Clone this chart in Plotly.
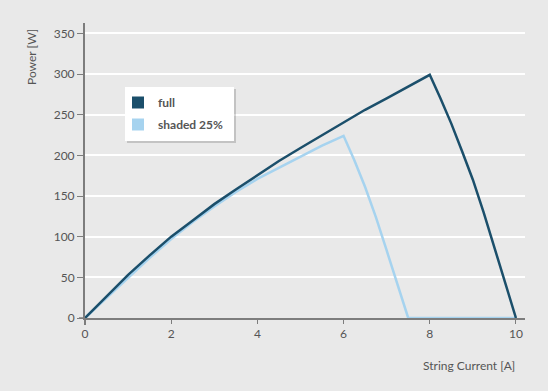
import plotly.graph_objects as go

# Data
current_full = [0, 0.5, 1, 1.5, 2, 2.5, 3, 3.5, 4, 4.5, 5, 5.5, 6, 6.5, 7, 7.5, 8,
                8.25, 8.5, 8.75, 9, 9.25, 9.5, 9.75, 10]
power_full = [0, 27, 53, 77, 100, 120, 140, 158, 176, 193, 209, 225, 241, 256, 270, 285, 299,
              270, 239, 205, 170, 130, 86, 43, 0]

current_shaded = [0, 0.5, 1, 1.5, 2, 2.5, 3, 3.5, 4, 4.5, 5, 5.5, 6,
                  6.25, 6.5, 6.75, 7, 7.25, 7.5, 10]
power_shaded = [0, 25, 50, 74, 97, 118, 137, 155, 171, 185, 199, 212, 224,
                194, 161, 124, 83, 41, 0, 0]

series_names = ["full", "shaded 25%"]
colors = ["#1b4f6b", "#a6d3ef"]

x_ticks = [0, 2, 4, 6, 8, 10]
y_ticks = [0, 50, 100, 150, 200, 250, 300, 350]

FONT = "Lato, 'Open Sans', sans-serif"
TXT = "#555555"
AX = "#7d7d7d"
BG = "#e9e9e9"

PW, PH = 440, 295  # plot area size in px
def px_x(p):
    return (p - 85) / PW
def px_y(p):
    return (318 - p) / PH

fig = go.Figure()
fig.add_trace(go.Scatter(x=current_shaded, y=power_shaded, mode="lines",
                         line=dict(color=colors[1], width=2.5), showlegend=False,
                         cliponaxis=False))
fig.add_trace(go.Scatter(x=current_full, y=power_full, mode="lines",
                         line=dict(color=colors[0], width=2.5), showlegend=False,
                         cliponaxis=False))
for i, (name, c) in enumerate(zip(series_names, colors)):
    fig.add_trace(go.Scatter(x=[None], y=[None], mode="markers", name=name,
                             legendgroup=f"g{i}",
                             marker=dict(symbol="square", size=12, color=c)))

fig.update_layout(
    width=548, height=391,
    margin=dict(l=85, r=23, t=23, b=73),
    paper_bgcolor=BG, plot_bgcolor=BG,
    font=dict(family=FONT, color=TXT, size=12),
    xaxis=dict(range=[0, 10.21], tickvals=x_ticks, showgrid=False, zeroline=False,
               showline=True, linecolor=AX, linewidth=1.5,
               ticks="outside", ticklen=4, tickcolor=AX, tickwidth=1.2,
               tickfont=dict(size=12, color=TXT)),
    yaxis=dict(range=[0, 362.7], tickvals=y_ticks, showgrid=True, gridcolor="#ffffff",
               gridwidth=1.5, zeroline=False,
               showline=True, linecolor=AX, linewidth=2,
               ticks="outside", ticklen=6, tickcolor=AX, tickwidth=1.2,
               tickfont=dict(size=12, color=TXT)),
    legend=dict(x=px_x(118), y=px_y(88), xanchor="left", yanchor="top",
                bgcolor="rgba(0,0,0,0)", borderwidth=0,
                font=dict(size=12, color=TXT, family=FONT, weight="bold"),
                itemsizing="trace", traceorder="grouped", tracegroupgap=3),
    showlegend=True,
)

# axis overshoot lines
fig.add_shape(type="line", xref="paper", yref="paper", x0=px_x(79), x1=0, y0=0, y1=0,
              line=dict(color=AX, width=1.5))
fig.add_shape(type="line", xref="paper", yref="paper", x0=0, x1=0, y0=px_y(325), y1=0,
              line=dict(color=AX, width=2))
# legend box shadow + box
fig.add_shape(type="rect", xref="paper", yref="paper",
              x0=px_x(127), x1=px_x(236), y0=px_y(143), y1=px_y(89),
              fillcolor="rgba(0,0,0,0.16)", line=dict(width=0), layer="above")
fig.add_shape(type="rect", xref="paper", yref="paper",
              x0=px_x(125), x1=px_x(234), y0=px_y(141), y1=px_y(87),
              fillcolor="#ffffff", line=dict(width=0), layer="above")

fig.add_annotation(text="Power [W]", xref="paper", yref="paper",
                   x=px_x(32), y=px_y(57), textangle=-90, showarrow=False,
                   font=dict(size=12, color=TXT), xanchor="center", yanchor="middle")
fig.add_annotation(text="String Current [A]", xref="paper", yref="paper",
                   x=px_x(517), y=px_y(365), showarrow=False,
                   font=dict(size=12, color=TXT), xanchor="right", yanchor="middle")

fig.write_html("out.html", config={"displayModeBar": False},
               post_script="document.body.style.margin='0px';document.body.style.background='#e9e9e9';")
